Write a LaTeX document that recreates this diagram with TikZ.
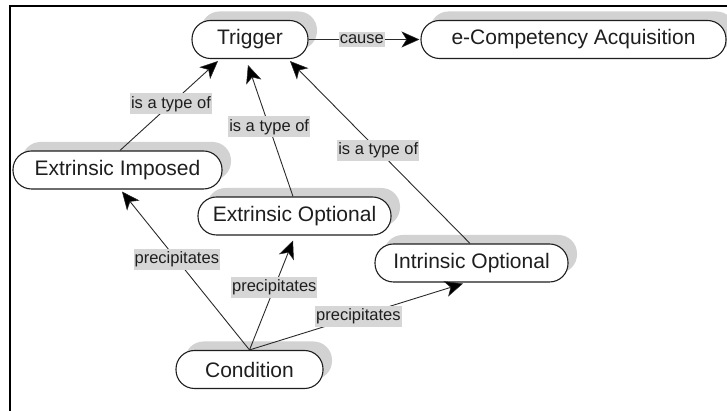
\documentclass[tikz,border=0pt]{standalone}
\usepackage{fontspec}
\setmainfont{Liberation Sans}
\usetikzlibrary{arrows.meta,shadows}
\definecolor{shadowgray}{HTML}{D2D2D2}
\definecolor{labelgray}{HTML}{D6D6D6}
\definecolor{inkgray}{HTML}{1E1E1E}
\definecolor{edgegray}{HTML}{2A2A2A}
\tikzset{
  concept/.style={draw=inkgray, line width=1.1pt, fill=white, rectangle,
    rounded corners=18.5pt, minimum height=38pt, inner sep=0pt,
    text=inkgray, font=\fontsize{21}{24}\selectfont,
    general shadow={shadow xshift=9pt, shadow yshift=9pt, fill=shadowgray, draw=none}},
  lab/.style={fill=labelgray, inner xsep=1pt, inner ysep=2.8pt, text=inkgray,
    font=\fontsize{16.5}{18}\selectfont},
  link/.style={draw=edgegray, line width=0.9pt,
    -{Stealth[length=18pt,width=16pt,inset=5pt,fill=black,line width=0.5pt]}}
}
\begin{document}
\begin{tikzpicture}[x=1pt,y=1pt]
\useasboundingbox (0,0) rectangle (727,411);
% frame
\draw[line width=2pt, black] (10,0) -- (10,405) -- (727,405);
% concepts
\node[concept, minimum width=116pt] (T) at (250,371.5) {Trigger};
\node[concept, minimum width=305pt] (A) at (573.5,371.5) {e-Competency Acquisition};
\node[concept, minimum width=209pt] (EI) at (117.5,241) {Extrinsic Imposed};
\node[concept, minimum width=193pt] (EO) at (294.5,195) {Extrinsic Optional};
\node[concept, minimum width=193pt] (IO) at (471.5,148) {Intrinsic Optional};
\node[concept, minimum width=147pt] (C) at (249.5,41.5) {Condition};
% links
\draw[link] (T.east) -- node[lab, pos=0.48] {cause} ([xshift=-1pt]A.west);
\draw[link] ([xshift=2.5pt]EI.north) -- node[lab, pos=0.52] {is a type of} ([xshift=-32pt,yshift=-2pt]T.south);
\draw[link] ([xshift=-1.5pt]EO.north) -- node[lab, pos=0.53] {is a type of} ([xshift=-2pt,yshift=-6pt]T.south);
\draw[link] ([xshift=-1.5pt]IO.north) -- node[lab, pos=0.51] {is a type of} ([xshift=40pt,yshift=-2pt]T.south);
\draw[link] (C.north) -- node[lab, pos=0.57] {precipitates} ([xshift=4.5pt,yshift=-2pt]EI.south);
\draw[link] (C.north) -- node[lab, pos=0.57] {precipitates} ([xshift=-1.5pt,yshift=-5pt]EO.south);
\draw[link] (C.north) -- node[lab, pos=0.51] {precipitates} ([xshift=-8.5pt,yshift=-1pt]IO.south);
\end{tikzpicture}
\end{document}
